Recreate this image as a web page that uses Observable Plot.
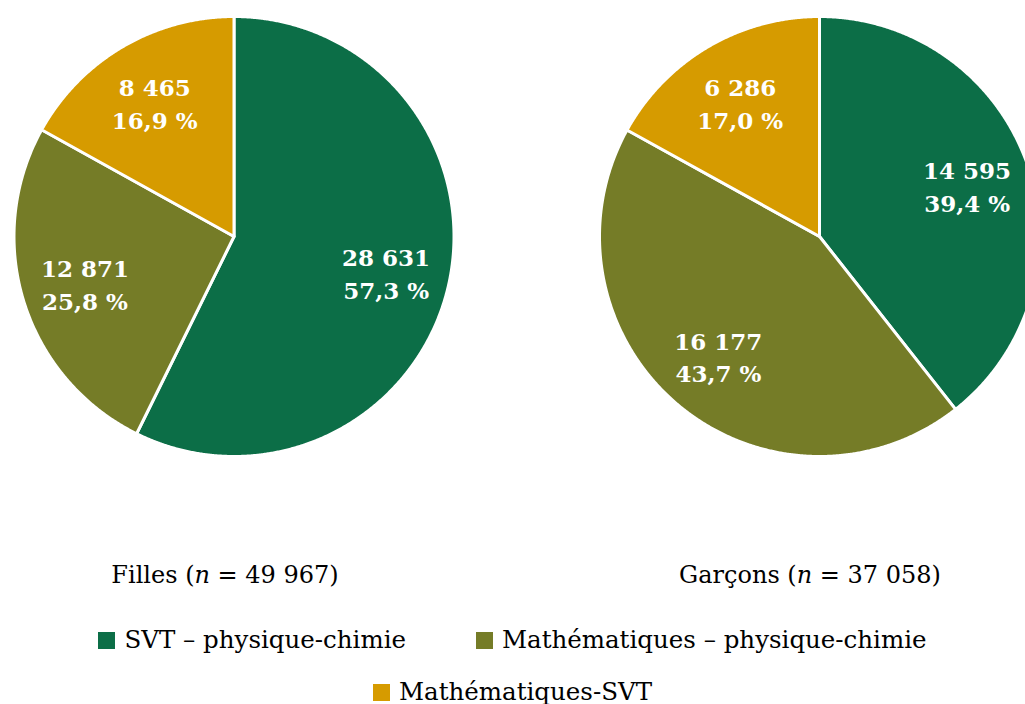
<!DOCTYPE html>
<html><head><meta charset="utf-8">
<script src="https://cdn.jsdelivr.net/npm/d3@7"></script>
<script src="https://cdn.jsdelivr.net/npm/@observablehq/plot@0.6"></script>
<style>
body{margin:0;background:#fff;overflow:hidden;font-family:"DejaVu Serif",serif;color:#000}
#wrap{position:relative;width:1025px;height:704px}
#wrap svg{position:absolute;left:0;top:0}
.cap{position:absolute;top:563px;font-size:24px;line-height:1;text-align:center;width:400px;white-space:nowrap}
.row{position:absolute;left:0;width:1025px;display:flex;justify-content:center;gap:70px;font-size:24.5px;line-height:1;white-space:nowrap}
.item{display:flex;align-items:center}
.sw{width:17px;height:17px;margin-right:9px;flex:none}
</style></head><body><div id="wrap"></div>
<script>
const categories = ["SVT – physique-chimie", "Mathématiques – physique-chimie", "Mathématiques-SVT"];
const groups = ["Filles", "Garçons"];
const fillesValues = [28631, 12871, 8465];
const garconsValues = [14595, 16177, 6286];
const colors = ["#0c6e47", "#757c27", "#d69b00"];

const loc = d3.formatLocale({decimal: ",", thousands: "\u00a0", grouping: [3], currency: ["", " €"]});
const fmtN = loc.format(",d");
const fmtP = loc.format(".1f");

const W = 1025, H = 470, R = 220;
const cxPx = [233.5, 819], cyPx = 236;
const centers = cxPx.map(c => (c - cxPx[0]) / R);

const series = [fillesValues, garconsValues];
const pts = [], labels = [];
series.forEach((vals, g) => {
  const total = d3.sum(vals);
  const arcs = d3.pie().sort(null)(vals);
  arcs.forEach((a, i) => {
    const key = groups[g] + i;
    const cx = centers[g];
    pts.push({key, cat: categories[i], x: cx, y: 0});
    const n = Math.max(2, Math.ceil((a.endAngle - a.startAngle) / 0.005));
    for (let k = 0; k <= n; k++) {
      const t = a.startAngle + (a.endAngle - a.startAngle) * k / n;
      pts.push({key, cat: categories[i], x: cx + Math.sin(t), y: Math.cos(t)});
    }
    const m = (a.startAngle + a.endAngle) / 2;
    labels.push({x: cx + 0.71 * Math.sin(m), y: 0.71 * Math.cos(m),
      text: fmtN(vals[i]) + "\n" + fmtP(vals[i] / total * 100) + " %"});
  });
});

const plot = Plot.plot({
  width: W, height: H, margin: 0,
  x: {domain: [-cxPx[0] / R, (W - cxPx[0]) / R], axis: null},
  y: {domain: [-(H - cyPx) / R, cyPx / R], axis: null},
  color: {domain: categories, range: colors},
  marks: [
    Plot.line(pts, {x: "x", y: "y", z: "key", fill: "cat", stroke: "white", strokeWidth: 3,
      strokeLinejoin: "round", curve: "linear-closed", clip: true}),
    Plot.text(labels, {x: "x", y: "y", text: "text", fill: "white", fontSize: 23, fontWeight: "bold",
      fontFamily: "DejaVu Serif", lineHeight: 1.43, lineAnchor: "middle"})
  ]
});
const wrap = document.getElementById("wrap");
wrap.appendChild(plot);

const capCenters = [225, 810];
groups.forEach((g, i) => {
  const d = document.createElement("div");
  d.className = "cap";
  d.style.left = (capCenters[i] - 200) + "px";
  d.innerHTML = `${g} (<i>n</i> = ${fmtN(d3.sum(series[i]))})`;
  wrap.appendChild(d);
});

const rows = [[0, 1], [2]];
const rowTops = [628, 680];
rows.forEach((r, ri) => {
  const row = document.createElement("div");
  row.className = "row";
  row.style.top = rowTops[ri] + "px";
  r.forEach(i => {
    const it = document.createElement("div");
    it.className = "item";
    it.innerHTML = `<span class="sw" style="background:${colors[i]}"></span><span>${categories[i]}</span>`;
    row.appendChild(it);
  });
  wrap.appendChild(row);
});
</script></body></html>
